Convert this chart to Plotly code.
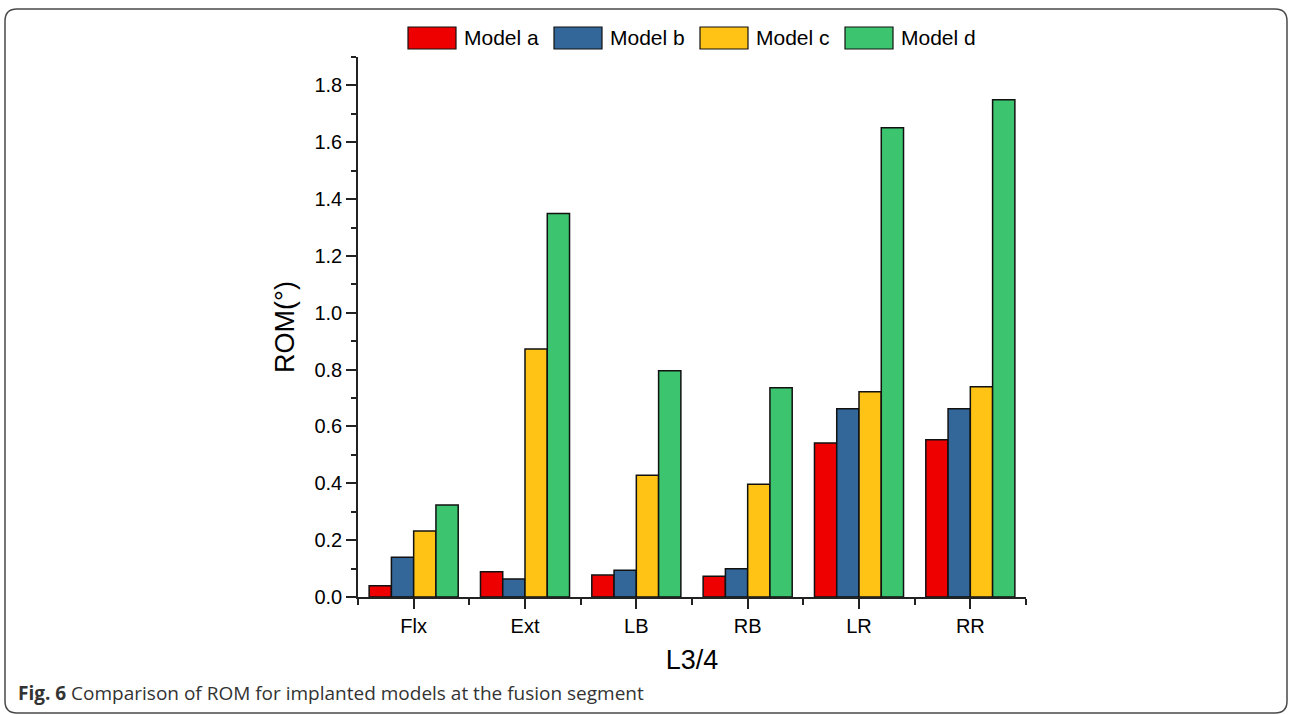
import plotly.graph_objects as go

# Range of motion (degrees) at the L3/4 fusion segment
categories = ["Flx", "Ext", "LB", "RB", "LR", "RR"]
series_names = ["Model a", "Model b", "Model c", "Model d"]
model_a = [0.040, 0.089, 0.077, 0.073, 0.542, 0.553]
model_b = [0.140, 0.063, 0.094, 0.099, 0.662, 0.662]
model_c = [0.232, 0.873, 0.428, 0.397, 0.722, 0.740]
model_d = [0.324, 1.349, 0.796, 0.736, 1.651, 1.750]
y_ticks = [0.0, 0.2, 0.4, 0.6, 0.8, 1.0, 1.2, 1.4, 1.6, 1.8]

colors = ["#EE0000", "#336699", "#FEC314", "#3CC46F"]
series_values = [model_a, model_b, model_c, model_d]

W, H = 1292, 715
L, R, T, B = 358, 266, 57, 118
pw, ph = W - L - R, H - T - B

def px_x(x):
    return (x - L) / pw

def px_y(y):
    return (H - B - y) / ph

AXIS_FONT = "Liberation Sans, Arial, sans-serif"
x_pos = list(range(len(categories)))

fig = go.Figure()
for name, vals, col in zip(series_names, series_values, colors):
    fig.add_trace(go.Bar(
        x=x_pos, y=vals, name=name,
        marker=dict(color=col, line=dict(color="#111111", width=1.5)),
        showlegend=False,
    ))

# Legend row: colour swatch followed by its label
box_left = [408, 554, 700, 845]
box_w, box_top, box_bot = 48, 27, 49
shapes = []
annotations = []
for i, (name, col) in enumerate(zip(series_names, colors)):
    x0 = box_left[i]
    shapes.append(dict(
        type="rect", xref="paper", yref="paper",
        x0=px_x(x0), x1=px_x(x0 + box_w), y0=px_y(box_bot), y1=px_y(box_top),
        fillcolor=col, line=dict(color="#111111", width=1.2), layer="above",
    ))
    annotations.append(dict(
        text=name, xref="paper", yref="paper",
        x=px_x(x0 + box_w + 6), y=px_y((box_top + box_bot) / 2),
        xanchor="left", yanchor="middle", showarrow=False,
        font=dict(family=AXIS_FONT, size=21, color="#000000"),
    ))

# Rounded frame around the figure
fx0, fx1, fy0, fy1, rad = 5, 1287, 9, 713, 12
rx, ry = rad / pw, rad / ph
X0, X1, Y0, Y1 = px_x(fx0), px_x(fx1), px_y(fy0), px_y(fy1)
path = (
    f"M {X0 + rx},{Y0} L {X1 - rx},{Y0} Q {X1},{Y0} {X1},{Y0 - ry} "
    f"L {X1},{Y1 + ry} Q {X1},{Y1} {X1 - rx},{Y1} "
    f"L {X0 + rx},{Y1} Q {X0},{Y1} {X0},{Y1 + ry} "
    f"L {X0},{Y0 - ry} Q {X0},{Y0} {X0 + rx},{Y0} Z"
)
shapes.append(dict(type="path", xref="paper", yref="paper", path=path,
                   line=dict(color="#4a4a4a", width=1.5)))

# Caption
annotations.append(dict(
    text="<b>Fig. 6</b> Comparison of ROM for implanted models at the fusion segment",
    xref="paper", yref="paper", x=px_x(16), y=px_y(693),
    xanchor="left", yanchor="middle", showarrow=False,
    font=dict(family="Open Sans, sans-serif", size=19, color="#333333"),
))

fig.update_layout(
    width=W, height=H,
    margin=dict(l=L, r=R, t=T, b=B, pad=0),
    paper_bgcolor="white", plot_bgcolor="white",
    barmode="group", bargap=0.2, bargroupgap=0,
    shapes=shapes, annotations=annotations,
    font=dict(family=AXIS_FONT, color="#000000"),
)
fig.update_xaxes(
    range=[-0.5, 5.5], tickvals=x_pos, ticktext=categories,
    showline=True, linecolor="#222222", linewidth=1.5,
    ticks="outside", ticklen=10, tickwidth=1.5, tickcolor="#222222",
    minor=dict(tickvals=[-0.5, 0.5, 1.5, 2.5, 3.5, 4.5, 5.5], ticks="outside",
               ticklen=6, tickwidth=1.5, tickcolor="#222222"),
    showgrid=False, zeroline=False,
    tickfont=dict(size=20, family=AXIS_FONT),
    title=dict(text="L3/4", font=dict(size=27, family=AXIS_FONT), standoff=14),
)
fig.update_yaxes(
    range=[0, 1.9], tickvals=y_ticks, tickformat=".1f",
    showline=True, linecolor="#222222", linewidth=1.5,
    ticks="outside", ticklen=10, tickwidth=1.5, tickcolor="#222222",
    minor=dict(dtick=0.1, ticks="outside", ticklen=5, tickwidth=1.5, tickcolor="#222222"),
    showgrid=False, zeroline=False,
    tickfont=dict(size=20, family=AXIS_FONT),
    title=dict(text="ROM(°)", font=dict(size=27, family=AXIS_FONT), standoff=12),
)

fig.write_html("out.html")
